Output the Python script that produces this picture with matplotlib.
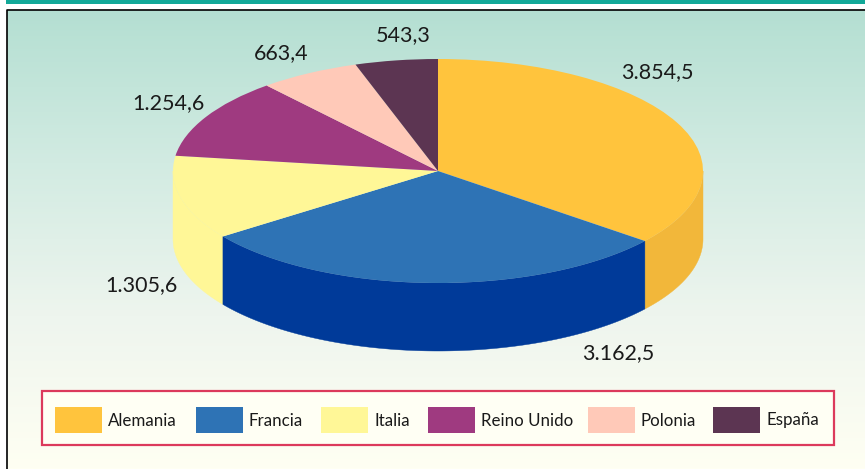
import numpy as np
import matplotlib
matplotlib.use("Agg")
import matplotlib.pyplot as plt
from matplotlib.patches import Rectangle
from matplotlib.colors import LinearSegmentedColormap

plt.rcParams['font.family'] = ['Lato', 'DejaVu Sans']

# -------------------
# Data
# -------------------
countries = ["Alemania", "Francia", "Italia", "Reino Unido", "Polonia", "España"]
values = [3854.5, 3162.5, 1305.6, 1254.6, 663.4, 543.3]
value_labels = ["3.854,5", "3.162,5", "1.305,6", "1.254,6", "663,4", "543,3"]

top_colors = ["#FFC43D", "#2E73B5", "#FFF797", "#9F3A80", "#FFC9B8", "#5C3552"]
side_colors = ["#F2B73A", "#003A99", "#FFF797"]

# label centres in pixels
label_pos = [(657, 72), (618, 353), (141, 285), (168, 103), (281, 53), (403, 35)]
# legend swatch left edge and text left edge, pixels
swatch_x = [55, 196, 321, 428, 588, 713]
text_x = [108, 249, 374, 481, 641, 766]

W, H = 865, 469
CX, CY, RX, RY = 438, 171, 265, 112
DEPTH = 68 / RY

fig = plt.figure(figsize=(W / 100, H / 100), dpi=100, facecolor="white")

# -------------------
# Background in pixel coordinates
# -------------------
bg = fig.add_axes([0, 0, 1, 1])
bg.set_xlim(0, W)
bg.set_ylim(H, 0)
bg.axis("off")

cmap = LinearSegmentedColormap.from_list("panel", ["#B4DFD2", "#D2EBE2", "#EEF5EE", "#FFFFF3"])
grad = np.linspace(0, 1, 256).reshape(-1, 1)
bg.imshow(grad, cmap=cmap, extent=(7, W, H, 10), aspect="auto", zorder=0)
bg.set_xlim(0, W)
bg.set_ylim(H, 0)
bg.add_patch(Rectangle((6, 0), W - 6, 4, fc="#12A898", ec="none", zorder=1))
bg.plot([7, 7, W], [H, 10, 10], color="black", lw=1.2, zorder=2)

# -------------------
# Pie, x unit = RX px and y unit = RY px so circles come out as ellipses
# -------------------
ax = fig.add_axes([0, 0, 1, 1])
ax.patch.set_alpha(0)
xlim = (-CX / RX, (W - CX) / RX)
ylim = ((CY - H) / RY, CY / RY)

fracs = np.array(values) / sum(values)
edges = np.cumsum(np.r_[0, fracs]) * 2 * np.pi  # clockwise from the top


def wall(start, stop, color, z):
    t = np.linspace(start, stop, 200)
    x = np.sin(t)
    y = np.cos(t)
    ax.fill(np.r_[x, x[::-1]], np.r_[y, y[::-1] - DEPTH], fc=color, ec=color, lw=0.3, zorder=z)


# only the front of the cylinder shows
wall(np.pi / 2, edges[1], side_colors[0], 1)
wall(edges[2], 3 * np.pi / 2, side_colors[2], 1)
wall(edges[1], edges[2], side_colors[1], 2)

wedges, _ = ax.pie(values, colors=top_colors, startangle=90, counterclock=False, radius=1,
                   wedgeprops={"linewidth": 0})
for w in wedges:
    w.set_zorder(3)
ax.set_xlim(xlim)
ax.set_ylim(ylim)
ax.set_aspect("auto")
ax.axis("off")

# -------------------
# Labels and legend on top, pixels again
# -------------------
top = fig.add_axes([0, 0, 1, 1])
top.patch.set_alpha(0)
top.set_xlim(0, W)
top.set_ylim(H, 0)
top.axis("off")

for (lx, ly), txt in zip(label_pos, value_labels):
    top.text(lx, ly, txt, fontsize=15.5, color="#1A1A1A", ha="center", va="center")

top.add_patch(Rectangle((42, 391), 792, 54, fc="#FFFFF4", ec="#DC3A5C", lw=1.6))
for sx, tx, name, col in zip(swatch_x, text_x, countries, top_colors):
    top.add_patch(Rectangle((sx, 407), 47, 26, fc=col, ec="none"))
    top.text(tx, 420.5, name, fontsize=12.2, color="#1A1A1A", ha="left", va="center")

fig.savefig("out.png", dpi=100)
